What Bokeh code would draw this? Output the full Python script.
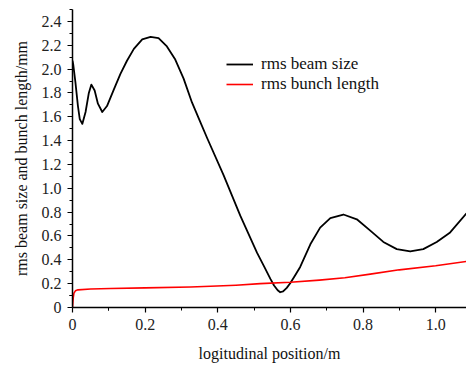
from bokeh.plotting import figure
from bokeh.models import Range1d, Legend, LegendItem, FixedTicker
from bokeh.embed import file_html
from bokeh.resources import INLINE

# rms beam size (black)
beam_x = [0.000, 0.002, 0.008, 0.015, 0.020, 0.027, 0.036, 0.045, 0.052, 0.061,
          0.070, 0.082, 0.095, 0.114, 0.132, 0.150, 0.169, 0.192, 0.215, 0.237,
          0.260, 0.283, 0.306, 0.329, 0.350, 0.371, 0.416, 0.462, 0.508, 0.530,
          0.545, 0.555, 0.565, 0.572, 0.580, 0.590, 0.600, 0.612, 0.627, 0.655,
          0.682, 0.710, 0.746, 0.783, 0.820, 0.856, 0.893, 0.930, 0.966, 1.003,
          1.040, 1.085]
beam_y = [2.07, 2.04, 1.89, 1.69, 1.58, 1.54, 1.64, 1.80, 1.87, 1.82,
          1.71, 1.64, 1.69, 1.83, 1.96, 2.07, 2.17, 2.25, 2.27, 2.26,
          2.19, 2.08, 1.92, 1.72, 1.57, 1.42, 1.11, 0.77, 0.46, 0.33,
          0.24, 0.185, 0.145, 0.128, 0.135, 0.165, 0.205, 0.265, 0.34, 0.53,
          0.67, 0.75, 0.78, 0.74, 0.645, 0.55, 0.49, 0.47, 0.49, 0.55,
          0.63, 0.79]

# rms bunch length (red)
bunch_x = [0.000, 0.002, 0.004, 0.008, 0.015, 0.050, 0.105, 0.200, 0.325, 0.380,
           0.450, 0.517, 0.600, 0.680, 0.750, 0.820, 0.900, 1.000, 1.085]
bunch_y = [0.000, 0.080, 0.120, 0.140, 0.148, 0.155, 0.160, 0.165, 0.172, 0.178,
           0.187, 0.200, 0.212, 0.230, 0.250, 0.280, 0.316, 0.350, 0.386]

x_ticks = [0.0, 0.2, 0.4, 0.6, 0.8, 1.0]
x_tick_labels = {0.0: "0", 0.2: "0.2", 0.4: "0.4", 0.6: "0.6", 0.8: "0.8", 1.0: "1.0"}
y_ticks = [0.0, 0.2, 0.4, 0.6, 0.8, 1.0, 1.2, 1.4, 1.6, 1.8, 2.0, 2.2, 2.4]
y_tick_labels = {0.0: "0", 0.2: "0.2", 0.4: "0.4", 0.6: "0.6", 0.8: "0.8", 1.0: "1.0",
                 1.2: "1.2", 1.4: "1.4", 1.6: "1.6", 1.8: "1.8", 2.0: "2.0", 2.2: "2.2",
                 2.4: "2.4"}

FONT = "Times New Roman, Liberation Serif, serif"

p = figure(width=466, height=365, output_backend="svg", toolbar_location=None,
           x_range=Range1d(0, 1.085), y_range=Range1d(0, 2.5),
           min_border_left=72, min_border_right=0, min_border_top=9, min_border_bottom=58)
p.outline_line_color = None
p.grid.visible = False
p.background_fill_color = "white"

r1 = p.line(beam_x, beam_y, line_color="black", line_width=1.8, line_join="round")
r2 = p.line(bunch_x, bunch_y, line_color="#ff0000", line_width=1.6, line_join="round")

for ax, ticks, labels in ((p.xaxis[0], x_ticks, x_tick_labels), (p.yaxis[0], y_ticks, y_tick_labels)):
    ax.ticker = FixedTicker(ticks=ticks,
                            minor_ticks=[round(t + 0.1, 2) for t in ticks] + [0.1])
    ax.major_label_overrides = labels
    ax.major_label_text_font = FONT
    ax.major_label_text_font_size = "16px"
    ax.major_label_text_color = "#222222"
    ax.axis_label_text_font = FONT
    ax.axis_label_text_font_size = "16px"
    ax.axis_label_text_font_style = "normal"
    ax.axis_label_text_color = "#111111"
    ax.axis_line_color = "black"
    ax.axis_line_width = 1.5
    ax.major_tick_line_color = "black"
    ax.minor_tick_line_color = "black"
    ax.major_tick_line_width = 1.2
    ax.minor_tick_line_width = 1.0
    ax.major_tick_in = 0
    ax.major_tick_out = 5
    ax.minor_tick_in = 0
    ax.minor_tick_out = 3
    ax.major_label_standoff = 6

p.xaxis.axis_label = "logitudinal position/m"
p.yaxis.axis_label = "rms beam size and bunch length/mm"
p.xaxis.axis_label_standoff = 12
p.yaxis.axis_label_standoff = 9

legend = Legend(items=[LegendItem(label="rms beam size", renderers=[r1]),
                       LegendItem(label="rms bunch length", renderers=[r2])],
                location=(154, 213))
legend.border_line_alpha = 0
legend.background_fill_alpha = 0
legend.padding = 0
legend.margin = 0
legend.spacing = 0
legend.glyph_width = 27
legend.glyph_height = 18
legend.label_height = 18
legend.label_standoff = 8
legend.label_text_font = FONT
legend.label_text_font_size = "17px"
legend.label_text_color = "#111111"
p.add_layout(legend, "center")

open("out.html", "w").write(file_html(p, INLINE))
